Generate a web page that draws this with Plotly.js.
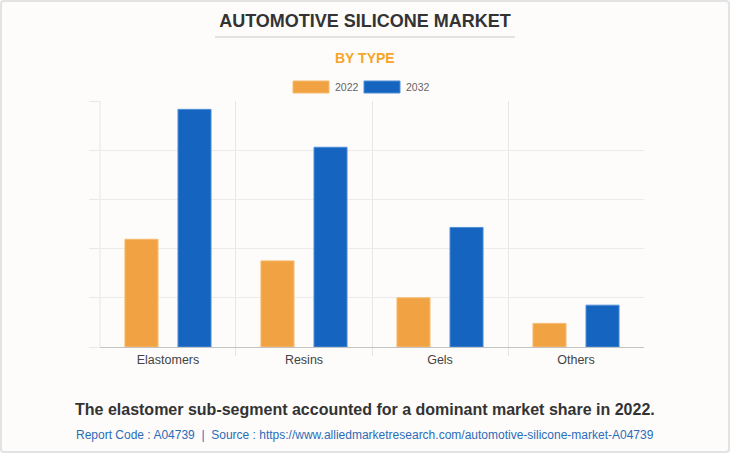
<!DOCTYPE html>
<html>
<head>
<meta charset="utf-8">
<script src="https://cdn.plot.ly/plotly-3.0.1.min.js"></script>
<style>
  html, body { margin: 0; padding: 0; background: #fdfcfb; }
  #wrap { position: relative; width: 730px; height: 453px; }
  #chart { width: 730px; height: 453px; }
  #frame { position: absolute; left: 0; top: 0; width: 730px; height: 453px; box-sizing: border-box;
           border: 2px solid #e3e3e3; border-radius: 4px; pointer-events: none; }
</style>
</head>
<body>
<div id="wrap"><div id="chart"></div><div id="frame"></div></div>
<script>
// ---- data ----
const categories = ["Elastomers", "Resins", "Gels", "Others"];
const seriesNames = ["2022", "2032"];
const values2022 = [2.19, 1.75, 1.00, 0.48];
const values2032 = [4.83, 4.06, 2.43, 0.85];
const seriesColors = ["#f1a343", "#1565c0"];
const seriesLines = ["#f6bb6e", "#4f8fd6"];

const titleText = "AUTOMOTIVE SILICONE MARKET";
const subtitleText = "BY TYPE";
const footnoteText = "The elastomer sub-segment accounted for a dominant market share in 2022.";
const sourceText = "Report Code : A04739  |  Source : https://www.alliedmarketresearch.com/automotive-silicone-market-A04739";

// ---- geometry helpers (pixel -> paper) ----
const W = 730, H = 453;
const M = { l: 100, r: 86, t: 101, b: 106 };
const pw = W - M.l - M.r, ph = H - M.t - M.b;
const px = x => (x - M.l) / pw;
const py = y => (H - M.b - y) / ph;

const FONT = "Liberation Sans, Arial, sans-serif";

const allValues = [values2022, values2032];
const traces = seriesNames.map((name, i) => ({
  type: "bar",
  name: name,
  x: categories,
  y: allValues[i],
  marker: { color: seriesColors[i], line: { color: seriesLines[i], width: 1 } },
  hoverinfo: "x+y+name"
}));

const shapes = [
  // title underline
  { type: "line", xref: "paper", yref: "paper", x0: px(215), x1: px(515), y0: py(37), y1: py(37),
    line: { color: "#c8c8c8", width: 1 } },
  // left vertical grid line of the category area
  { type: "line", xref: "paper", yref: "paper", x0: 0, x1: 0, y0: 0, y1: 1,
    line: { color: "#e6e6e6", width: 1 }, layer: "below" }
];
const annotations = [
  { text: "<b>" + subtitleText + "</b>", xref: "paper", yref: "paper", x: px(365), y: py(58),
    xanchor: "center", yanchor: "middle", showarrow: false,
    font: { family: FONT, size: 14, color: "#f7a529" } },
  { text: "<b>" + footnoteText + "</b>", xref: "paper", yref: "paper", x: px(365), y: py(409),
    xanchor: "center", yanchor: "middle", showarrow: false,
    font: { family: FONT, size: 16, color: "#333333" } },
  { text: sourceText, xref: "paper", yref: "paper", x: px(365), y: py(435),
    xanchor: "center", yanchor: "middle", showarrow: false,
    font: { family: FONT, size: 12, color: "#2b6cb8" } }
];
// custom wide legend swatches
const legendX = [293, 364];
seriesNames.forEach((name, i) => {
  shapes.push({ type: "rect", xref: "paper", yref: "paper",
    x0: px(legendX[i]), x1: px(legendX[i] + 36), y0: py(93), y1: py(81),
    fillcolor: seriesColors[i], line: { color: seriesLines[i], width: 1 } });
  annotations.push({ text: name, xref: "paper", yref: "paper",
    x: px(legendX[i] + 40), y: py(87), xanchor: "left", yanchor: "middle", showarrow: false,
    font: { family: FONT, size: 10.5, color: "#666666" } });
});

const layout = {
  width: W, height: H,
  margin: M,
  paper_bgcolor: "#fdfcfb",
  plot_bgcolor: "#fdfcfb",
  showlegend: false,
  barmode: "group",
  bargap: 0.22,
  bargroupgap: 0.377,
  title: { text: "<b>" + titleText + "</b>", x: 365 / W, xref: "container", y: 1 - 20.5 / H, yref: "container",
           xanchor: "center", yanchor: "middle",
           font: { family: FONT, size: 18, color: "#333333" } },
  xaxis: {
    type: "category",
    range: [-0.4999, 3.4999],
    tickson: "boundaries",
    ticks: "outside", ticklen: 8, tickcolor: "#e4e4e4", tickwidth: 1,
    showgrid: true, gridcolor: "#e6e6e6", gridwidth: 1,
    showline: false, zeroline: false,
    tickfont: { family: FONT, size: 12.5, color: "#444444" },
    ticklabelstandoff: 3,
    fixedrange: true
  },
  yaxis: {
    range: [0, 5], dtick: 1, tick0: 0,
    showticklabels: false,
    ticks: "outside", ticklen: 10, tickcolor: "#e8e8e8", tickwidth: 1,
    showgrid: true, gridcolor: "#ebebeb", gridwidth: 1,
    zeroline: true, zerolinecolor: "#c3c3c3", zerolinewidth: 1,
    showline: false,
    fixedrange: true
  },
  shapes: shapes,
  annotations: annotations
};

Plotly.newPlot("chart", traces, layout, { displayModeBar: false, staticPlot: true });
</script>
</body>
</html>
